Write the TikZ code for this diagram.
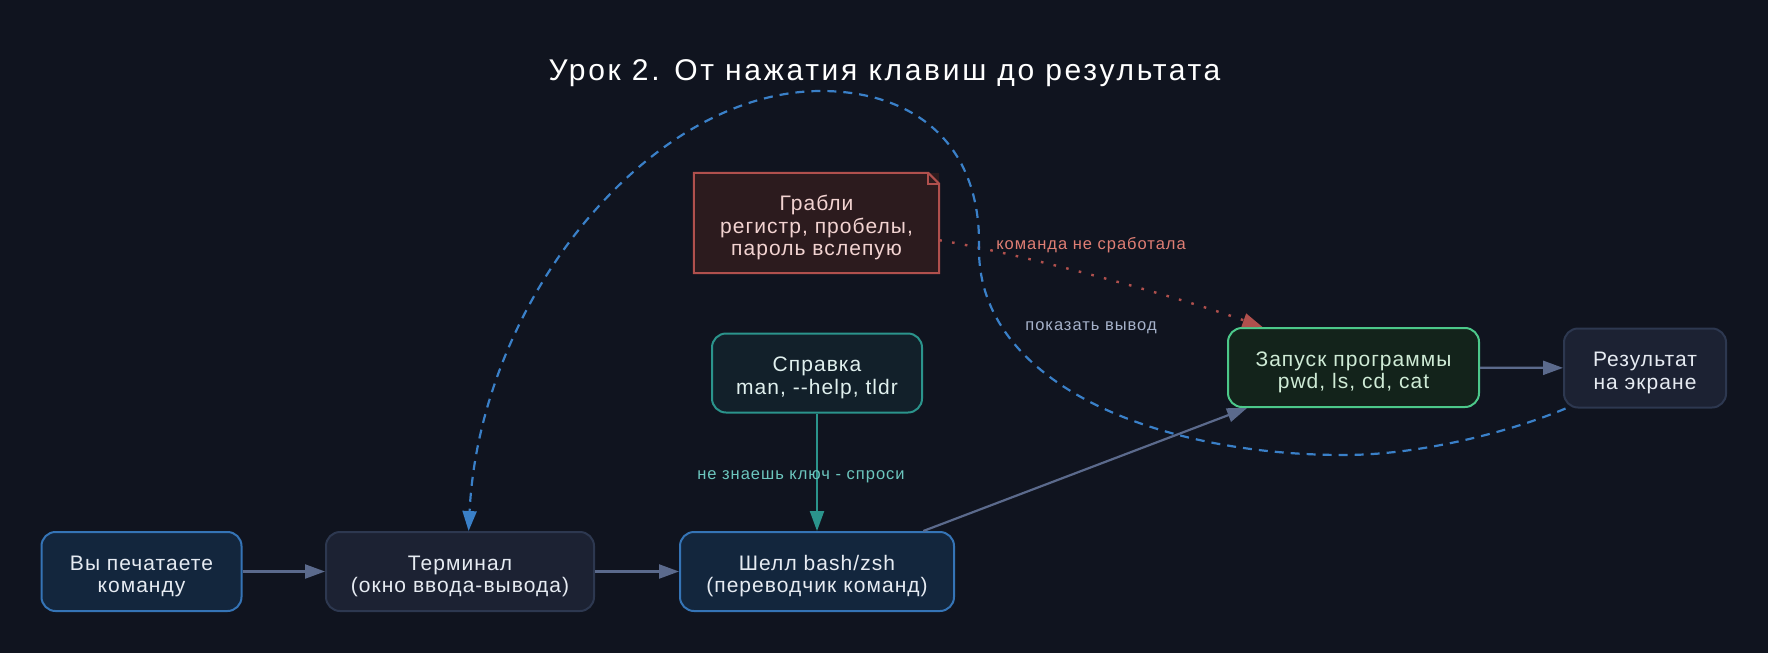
\documentclass[tikz,border=0pt]{standalone}
\usepackage{fontspec}
\setmainfont{Liberation Sans}
\newfontfamily\titleFam{Liberation Sans}[LetterSpace=9]
\newfontfamily\nodeFam{Liberation Sans}[LetterSpace=5]
\newfontfamily\lblFam{Liberation Sans}[LetterSpace=6]
\usetikzlibrary{arrows.meta,calc}
\definecolor{bg}{HTML}{10141F}
\definecolor{bluefill}{HTML}{13263D}
\definecolor{blueline}{HTML}{3574B6}
\definecolor{grayfill}{HTML}{1C2233}
\definecolor{grayline}{HTML}{2D3850}
\definecolor{tealfill}{HTML}{12202A}
\definecolor{tealline}{HTML}{2B948C}
\definecolor{redfill}{HTML}{2C1B1E}
\definecolor{redline}{HTML}{B0504D}
\definecolor{greenfill}{HTML}{13231B}
\definecolor{greenline}{HTML}{4CC88A}
\definecolor{edgeslate}{HTML}{5B6A8C}
\definecolor{dashblue}{HTML}{3A80C8}
\definecolor{txtlight}{HTML}{E6EBF2}
\definecolor{txtgreen}{HTML}{CFEBD6}
\definecolor{txtred}{HTML}{F2D3D1}
\definecolor{txtteal}{HTML}{E0F0EE}
\definecolor{lblteal}{HTML}{6CC6BE}
\definecolor{lblred}{HTML}{E07E74}
\definecolor{lblgray}{HTML}{A6B2CA}
\newcommand\myNodeFont{\nodeFam\fontsize{21pt}{22.3pt}\selectfont}
\newcommand\myLblFont{\lblFam\fontsize{16.5pt}{18pt}\selectfont}
\newcommand\myTitleFont{\titleFam\fontsize{30pt}{34pt}\selectfont}
\newcommand\myTopStrut{\rule{0pt}{24.5pt}}
\tikzset{
  box/.style={rounded corners=14pt, line width=2pt, minimum height=79pt, inner sep=0pt,
    align=center, font=\myNodeFont, text=txtlight},
  bluebox/.style={box, fill=bluefill, draw=blueline},
  graybox/.style={box, fill=grayfill, draw=grayline},
  tealbox/.style={box, fill=tealfill, draw=tealline, text=txtteal},
  greenbox/.style={box, fill=greenfill, draw=greenline, text=txtgreen},
  notebox/.style={minimum width=245pt, minimum height=100pt, inner sep=0pt, align=center,
    font=\myNodeFont, text=txtred, fill=redfill},
  tipstyle/.style={-{Triangle[length=20pt,width=14pt]}},
  flow/.style={tipstyle, line width=2.2pt, draw=edgeslate},
  helpflow/.style={tipstyle, line width=2.2pt, draw=tealline},
  failflow/.style={tipstyle, line width=2.4pt, draw=redline, dash pattern=on 2.6pt off 10.4pt},
  showflow/.style={tipstyle, line width=2.2pt, draw=dashblue, dash pattern=on 9pt off 7pt},
  lbl/.style={font=\myLblFont, anchor=base, inner sep=0pt}
}
\begin{document}
\begin{tikzpicture}[x=1pt,y=-1pt]
\fill[bg] (0,0) rectangle (1768,653);
\useasboundingbox (0,0) rectangle (1768,653);

\node[anchor=base, text=white, font=\myTitleFont, inner sep=0pt] (title) at (884.5,80) {Урок 2. От нажатия клавиш до результата};

% nodes
\node[bluebox, minimum width=200pt] (A) at (141.5,571.5) {\myTopStrut Вы печатаете\\команду};
\node[graybox, minimum width=268pt] (B) at (460,571.5) {\myTopStrut Терминал\\(окно ввода-вывода)};
\node[bluebox, minimum width=274pt] (C) at (817,571.5) {\myTopStrut Шелл bash/zsh\\(переводчик команд)};
\node[tealbox, minimum width=210pt] (D) at (817,373) {\myTopStrut Справка\\man, --help, tldr};
\node[notebox] (E) at (816.5,223) {\myTopStrut Грабли\\регистр, пробелы,\\пароль вслепую};
\node[greenbox, minimum width=251pt] (F) at (1353.5,367.5) {\myTopStrut Запуск программы\\pwd, ls, cd, cat};
\node[graybox, minimum width=162pt] (G) at (1645,368) {\myTopStrut Результат\\на экране};

% note outline with folded corner
\draw[redline, line width=2pt, line join=miter]
  (E.north west) -- ($(E.north east)+(-11,0)$) -- ($(E.north east)+(0,11)$)
  -- (E.south east) -- (E.south west) -- cycle;
\draw[redline, line width=2pt]
  ($(E.north east)+(-11,0)$) -- ($(E.north east)+(-11,11)$) -- ($(E.north east)+(0,11)$);

% edges
\draw[flow] (A) -- (B);
\draw[flow] (B) -- (C);
\draw[flow] (C) -- (F);
\draw[flow] (F) -- (G);
\draw[helpflow] (D) -- (C);
\draw[failflow] (E.-8) .. controls ($(E.-8)+(80,13)$) and ($(F.156)+(-90,-32)$) .. (F.156);

\coordinate (s1) at (1344,455);
\coordinate (s2) at (979,250);
\coordinate (s3) at (821,91);
\draw[showflow] (G.207) .. controls (1510,432) and (1420,455) .. (s1)
  .. controls (1150,455) and (979,380) .. (s2)
  .. controls (982,140) and (910,91) .. (s3)
  .. controls (650,91) and (480,300) .. (B.78);

% edge labels
\node[lbl, text=lblteal] (lhelp) at (801,479) {не знаешь ключ - спроси};
\node[lbl, text=lblred] (lfail) at (1091,249) {команда не сработала};
\node[lbl, text=lblgray] (lshow) at (1091,330) {показать вывод};
\end{tikzpicture}
\end{document}
